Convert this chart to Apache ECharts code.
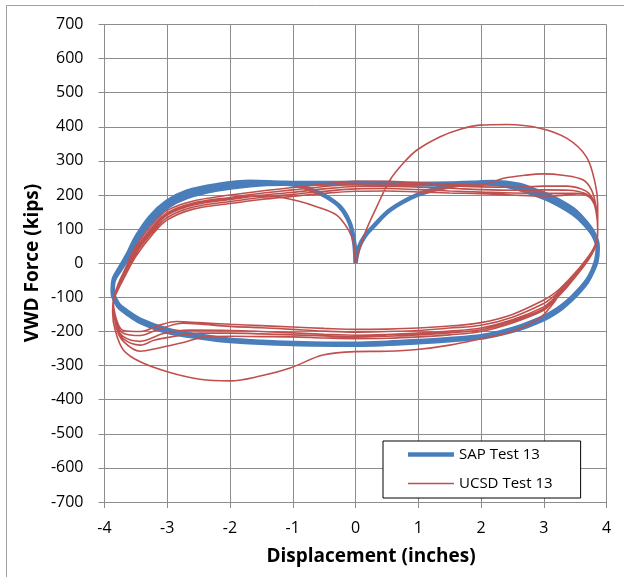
<!DOCTYPE html>
<html><head><meta charset="utf-8">
<script src="https://cdn.jsdelivr.net/npm/echarts@6/dist/echarts.min.js"></script>
<style>html,body{margin:0;padding:0;background:#fff}#c{width:624px;height:577px}</style>
</head><body><div id="c"></div>
<script>
// Axis ranges / ticks
const xRange = [-4, 4, 1];
const yRange = [-700, 700, 100];
const seriesNames = ['SAP Test 13', 'UCSD Test 13'];
const xTitle = 'Displacement (inches)';
const yTitle = 'VWD Force (kips)';

// SAP Test 13 (displacement, force) branches
const sapInitial = [[0,0],[0.05,45],[0.15,80],[0.28,107],[0.55,156],[0.98,200],[1.35,220],[1.87,235],[2.2,238],[2.6,230],[2.94,208],[3.2,188],[3.47,158],[3.65,125],[3.79,90],[3.86,50]];
const sapBottom1 = [[3.84,12],[3.78,-20],[3.70,-48],[3.58,-75],[3.45,-100],[3.3,-124],[3.15,-143],[3.0,-158],[2.62,-186],[2.3,-203],[2.0,-214],[1.5,-222],[1.0,-228],[0.5,-233],[0,-236],[-0.5,-236],[-1.0,-234],[-1.5,-230],[-2.0,-224],[-2.5,-212],[-3.0,-195],[-3.43,-166],[-3.65,-140],[-3.78,-120],[-3.87,-80]];
const sapTop1 = [[-3.85,-45],[-3.76,-15],[-3.62,30],[-3.49,78],[-3.27,136],[-3.01,180],[-2.69,210],[-2.21,229],[-1.68,239],[-1.15,236],[-0.5,235],[0,236],[0.5,235],[1.0,233],[1.5,234],[2.0,237],[2.3,236],[2.6,226],[3.0,205],[3.2,188],[3.47,158],[3.65,124],[3.79,88],[3.86,45]];
const sapBottom2 = [[3.84,8],[3.77,-24],[3.69,-52],[3.57,-79],[3.44,-104],[3.29,-128],[3.14,-147],[3.0,-161],[2.62,-189],[2.3,-205],[2.0,-216],[1.0,-230],[0,-238],[-1.0,-236],[-2.0,-226],[-2.5,-215],[-3.0,-198],[-3.43,-169],[-3.65,-143],[-3.78,-123],[-3.87,-84]];
const sapTop2 = [[-3.85,-50],[-3.76,-22],[-3.62,20],[-3.49,66],[-3.27,120],[-3.01,164],[-2.69,194],[-2.21,216],[-1.68,229],[-1.15,233],[-0.5,233],[0,234],[1.0,231],[2.0,234],[2.3,231],[2.6,218],[3.0,192],[3.2,175],[3.47,145],[3.65,115],[3.79,82],[3.86,42]];
const sapBottom3 = [[3.84,5],[3.77,-27],[3.69,-55],[3.57,-82],[3.44,-107],[3.29,-131],[3.14,-150],[3.0,-164],[2.62,-192],[2.3,-207],[2.0,-218],[1.0,-232],[0,-239],[-1.0,-237],[-2.0,-228],[-2.5,-217],[-3.0,-201],[-3.43,-172],[-3.65,-146],[-3.78,-126],[-3.87,-86]];
const sapFinal = [[-3.85,-48],[-3.76,-18],[-3.62,25],[-3.49,72],[-3.27,128],[-3.01,172],[-2.69,202],[-2.21,223],[-1.68,234],[-1.15,234],[-0.94,229],[-0.72,216],[-0.51,200],[-0.25,166],[-0.09,117],[-0.02,60],[0,0]];

// UCSD Test 13 (displacement, force) branches
const ucsdInitial = [[0,0],[0.15,88],[0.34,166],[0.55,244],[0.76,293],[0.98,332],[1.35,371],[1.67,393],[1.98,405],[2.41,407],[2.94,396],[3.37,366],[3.68,312],[3.82,234],[3.86,170],[3.86,110]];
const ucsdBottom1 = [[3.85,70],[3.80,45],[3.72,20],[3.62,-5],[3.50,-32],[3.38,-60],[3.26,-88],[3.15,-118],[2.94,-160],[2.5,-200],[1.98,-222],[1.5,-240],[0.98,-253],[0.5,-258],[0,-259],[-0.52,-269],[-1.04,-307],[-1.5,-330],[-2.0,-345],[-2.48,-340],[-3.0,-318],[-3.43,-289],[-3.70,-254],[-3.83,-196],[-3.87,-145],[-3.86,-108]];
const ucsdTop1 = [[-3.78,-60],[-3.68,-20],[-3.5,50],[-3.22,118],[-3.0,155],[-2.6,182],[-2.0,200],[-1.5,212],[-1.0,222],[-0.5,232],[0,240],[0.5,240],[1.0,236],[1.5,232],[1.98,229],[2.36,249],[2.7,258],[2.99,262],[3.3,258],[3.63,244],[3.76,215],[3.83,170],[3.86,110]];
const ucsdBottom2 = [[3.85,70],[3.80,46],[3.72,22],[3.62,-2],[3.50,-28],[3.38,-52],[3.26,-74],[3.14,-92],[3.0,-108],[2.5,-150],[2.0,-174],[1.5,-184],[1.0,-190],[0.5,-193],[0,-194],[-0.5,-191],[-1.0,-187],[-1.5,-183],[-2.0,-179],[-2.5,-174],[-2.85,-171],[-3.1,-180],[-3.43,-200],[-3.70,-197],[-3.80,-170],[-3.86,-110]];
const ucsdTop2 = [[-3.78,-64],[-3.68,-25],[-3.5,42],[-3.22,110],[-3.0,148],[-2.6,176],[-2.0,193],[-1.5,205],[-1.0,215],[-0.5,225],[0,232],[0.5,233],[1.0,230],[1.5,227],[2.0,224],[2.5,223],[3.0,226],[3.37,226],[3.6,218],[3.72,205],[3.8,180],[3.85,130],[3.86,105]];
const ucsdBottom3 = [[3.85,68],[3.80,43],[3.72,18],[3.62,-7],[3.50,-33],[3.38,-58],[3.26,-80],[3.14,-100],[3.0,-118],[2.5,-158],[2.0,-182],[1.5,-190],[1.0,-197],[0.5,-200],[0,-202],[-0.5,-199],[-1.0,-194],[-1.5,-189],[-2.0,-185],[-2.5,-178],[-2.75,-176],[-3.17,-196],[-3.43,-212],[-3.70,-205],[-3.81,-175],[-3.86,-112]];
const ucsdTop3 = [[-3.78,-68],[-3.68,-30],[-3.5,35],[-3.22,102],[-3.0,141],[-2.6,170],[-2.0,187],[-1.5,199],[-1.0,208],[-0.5,218],[0,225],[0.5,226],[1.0,223],[1.5,220],[2.0,216],[2.5,214],[3.0,215],[3.4,214],[3.65,205],[3.78,185],[3.84,150],[3.86,105]];
const ucsdBottom4 = [[3.85,66],[3.80,40],[3.72,15],[3.62,-10],[3.50,-37],[3.38,-63],[3.26,-86],[3.14,-107],[3.0,-128],[2.5,-166],[2.0,-190],[1.5,-199],[1.0,-205],[0.5,-209],[0,-211],[-0.5,-208],[-1.0,-204],[-1.5,-200],[-2.0,-197],[-2.64,-196],[-3.06,-206],[-3.43,-229],[-3.70,-215],[-3.81,-182],[-3.86,-114]];
const ucsdTop4 = [[-3.78,-72],[-3.68,-35],[-3.5,28],[-3.22,95],[-3.0,134],[-2.6,164],[-2.0,181],[-1.5,193],[-1.0,202],[-0.5,211],[0,218],[0.5,219],[1.0,216],[1.5,212],[2.0,209],[2.5,206],[3.0,205],[3.5,205],[3.72,195],[3.82,165],[3.86,115]];
const ucsdBottom5 = [[3.85,64],[3.80,38],[3.72,12],[3.62,-13],[3.50,-41],[3.38,-68],[3.26,-92],[3.14,-114],[3.0,-138],[2.5,-175],[2.0,-200],[1.5,-210],[1.0,-216],[0.5,-220],[0,-221],[-0.5,-219],[-1.0,-216],[-1.5,-215],[-2.0,-214],[-2.37,-215],[-2.7,-230],[-3.17,-250],[-3.43,-258],[-3.70,-229],[-3.81,-190],[-3.86,-116]];
const ucsdTop5 = [[-3.78,-76],[-3.68,-40],[-3.5,20],[-3.22,88],[-3.0,127],[-2.6,158],[-2.0,175],[-1.5,187],[-1.0,196],[-0.5,205],[0,211],[0.5,212],[1.0,209],[1.5,206],[2.0,204],[2.5,200],[3.0,197],[3.3,199],[3.6,204],[3.76,190],[3.83,155],[3.86,100]];
const ucsdBottom6 = [[3.85,65],[3.80,39],[3.72,14],[3.62,-11],[3.50,-39],[3.38,-66],[3.26,-89],[3.14,-110],[3.0,-133],[2.5,-170],[2.0,-195],[1.5,-204],[1.0,-210],[0.5,-214],[0,-216],[-0.5,-213],[-1.0,-210],[-1.5,-207],[-2.0,-205],[-2.5,-205],[-2.9,-215],[-3.2,-225],[-3.43,-240],[-3.70,-222],[-3.81,-186],[-3.86,-112]];
const ucsdFinal = [[-3.78,-66],[-3.68,-28],[-3.5,38],[-3.22,105],[-3.0,145],[-2.6,173],[-2.0,190],[-1.5,197],[-1.26,195],[-0.9,182],[-0.62,166],[-0.3,141],[-0.11,97],[-0.03,58],[0,0]];

const sapData = [].concat(sapInitial, sapBottom1, sapTop1, sapBottom2, sapTop2, sapBottom3, sapFinal);
const ucsdData = [].concat(ucsdInitial, ucsdBottom1, ucsdTop1, ucsdBottom2, ucsdTop2, ucsdBottom3, ucsdTop3, ucsdBottom4, ucsdTop4, ucsdBottom5, ucsdTop5, ucsdBottom6, ucsdFinal);

const FONT = 'Open Sans';
const GRID_COLOR = '#8c8c8c';
const SAP_COLOR = '#4a7ebb';
const UCSD_COLOR = '#c0504d';
const chart = echarts.init(document.getElementById('c'), null, {renderer:'canvas'});
chart.setOption({
  animation: false,
  backgroundColor: '#ffffff',
  grid: {left: 104.5, right: 17.5, top: 24.5, bottom: 75, containLabel: false},
  xAxis: {
    type: 'value', min: xRange[0], max: xRange[1], interval: xRange[2],
    axisLine: {onZero: false, lineStyle: {color: GRID_COLOR, width: 1}},
    axisTick: {show: true, length: 6, lineStyle: {color: GRID_COLOR}},
    axisLabel: {margin: 18, fontFamily: FONT, fontSize: 16, color: '#000'},
    splitLine: {show: true, lineStyle: {color: GRID_COLOR, width: 1}}
  },
  yAxis: {
    type: 'value', min: yRange[0], max: yRange[1], interval: yRange[2],
    axisLine: {onZero: false, show: true, lineStyle: {color: GRID_COLOR, width: 1}},
    axisTick: {show: true, length: 6, lineStyle: {color: GRID_COLOR}},
    axisLabel: {margin: 21, fontFamily: FONT, fontSize: 16, color: '#000'},
    splitLine: {show: true, lineStyle: {color: GRID_COLOR, width: 1}}
  },
  legend: {
    orient: 'vertical', left: 383, top: 441,
    padding: [6, 28, 7, 25], itemGap: 14, itemWidth: 46, itemHeight: 14,
    borderColor: '#000', borderWidth: 1, backgroundColor: '#fff',
    textStyle: {fontFamily: FONT, fontSize: 15, color: '#000'},
    itemStyle: {borderWidth: 0},
    data: [
      {name: seriesNames[0], icon: 'path://M0,0H46V4.5H0Z'},
      {name: seriesNames[1], icon: 'path://M0,0H46V1.6H0Z'}
    ]
  },
  graphic: [
    {type: 'rect', shape: {x: 6.5, y: 5.5, width: 700, height: 700}, style: {fill: 'none', stroke: '#a0a0a0', lineWidth: 1}, silent: true, z: -1},
    {type: 'text', x: 371, y: 557, style: {text: xTitle, font: 'bold 19px "Open Sans"', fill: '#000', textAlign: 'center', textVerticalAlign: 'middle'}},
    {type: 'text', x: 33, y: 263, rotation: Math.PI / 2, style: {text: yTitle, font: 'bold 19px "Open Sans"', fill: '#000', textAlign: 'center', textVerticalAlign: 'middle'}}
  ],
  series: [
    {name: seriesNames[0], type: 'line', data: sapData, symbol: 'none', showSymbol: false, smooth: 0.35,
     lineStyle: {color: SAP_COLOR, width: 4.5}, itemStyle: {color: SAP_COLOR}, z: 2},
    {name: seriesNames[1], type: 'line', data: ucsdData, symbol: 'none', showSymbol: false, smooth: 0.35,
     lineStyle: {color: UCSD_COLOR, width: 1.6}, itemStyle: {color: UCSD_COLOR}, z: 3}
  ]
});
</script></body></html>
